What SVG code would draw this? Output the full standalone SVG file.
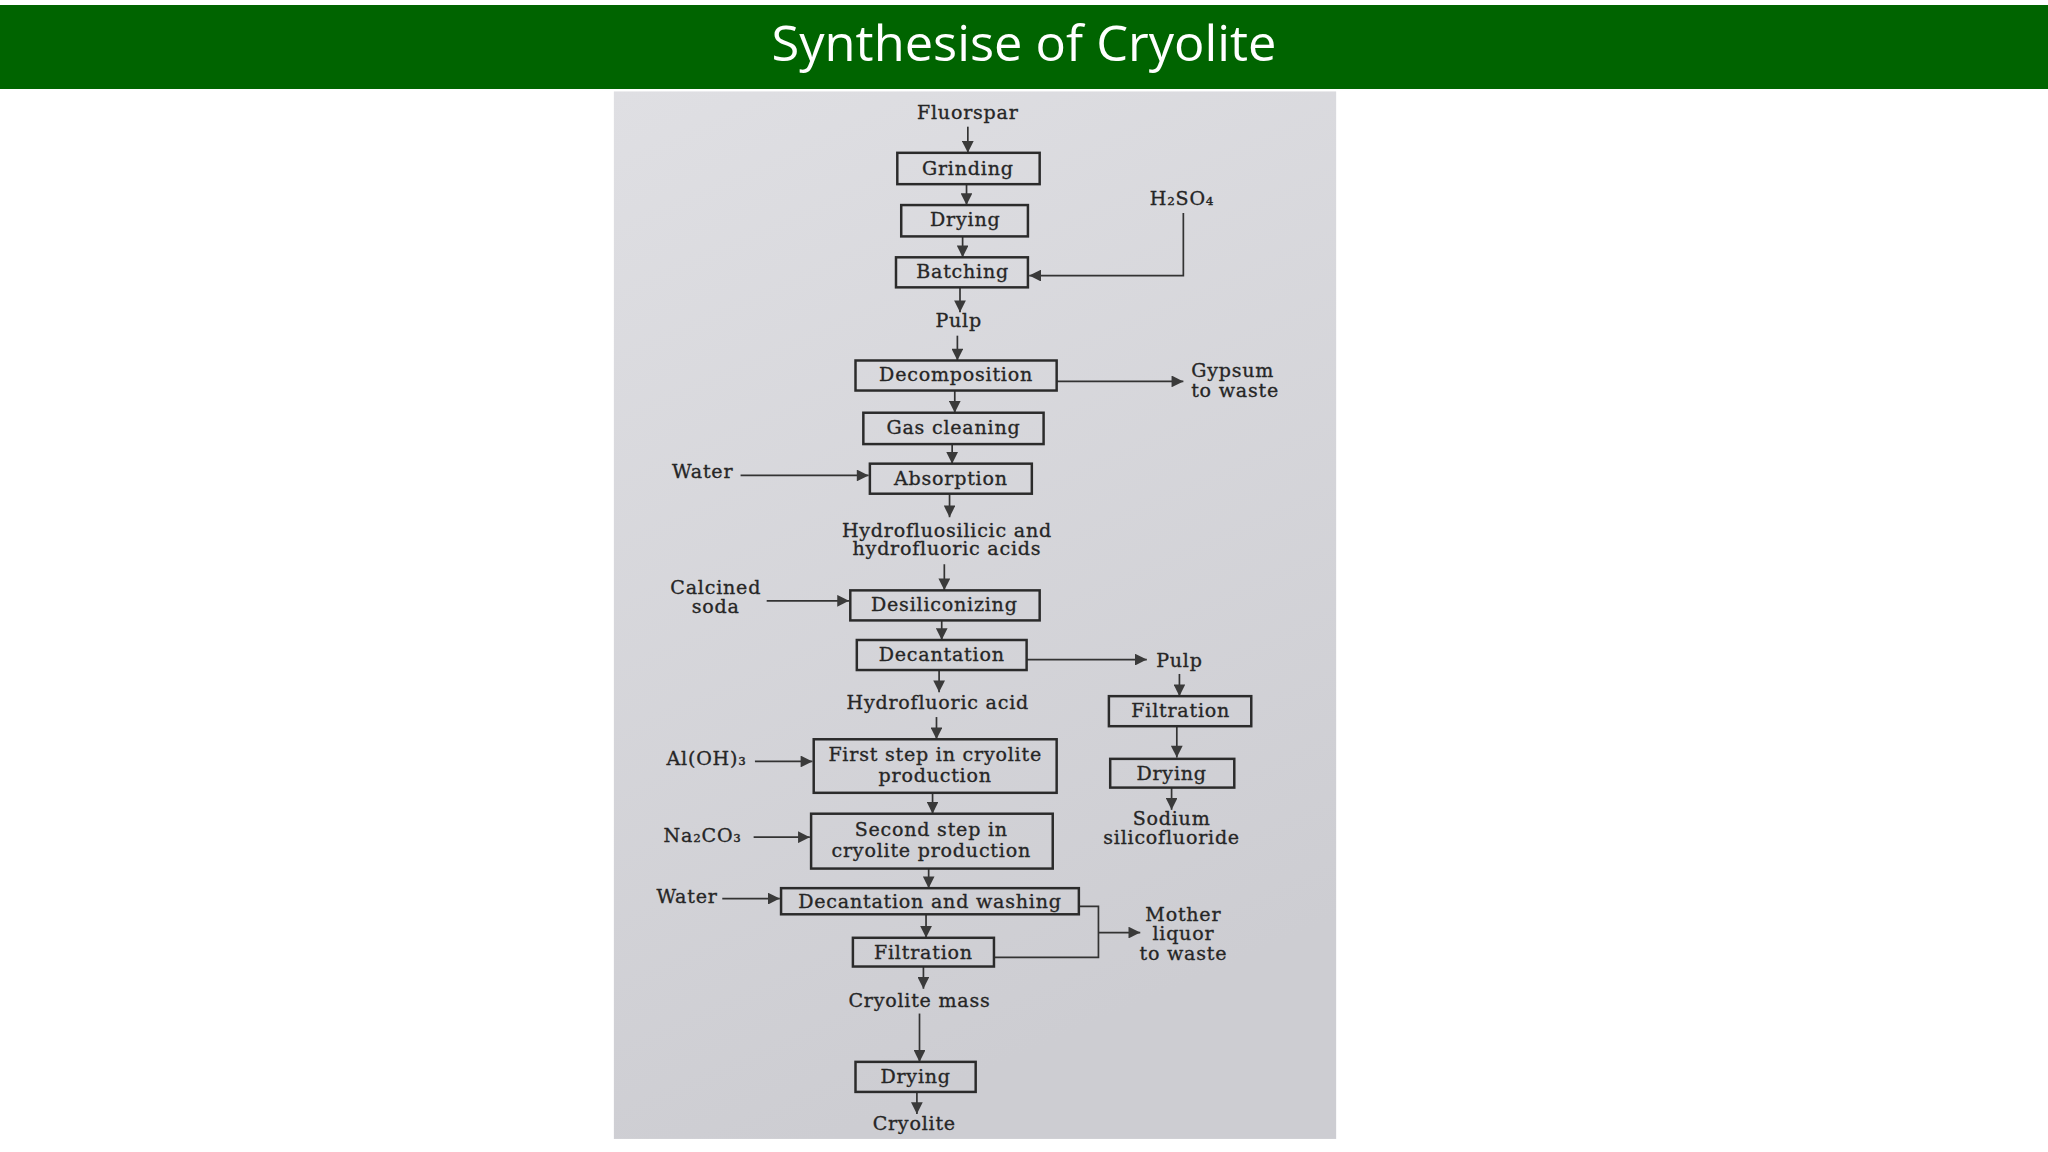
<svg xmlns="http://www.w3.org/2000/svg" width="2048" height="1152" viewBox="0 0 2048 1152">
<defs>
<style>
.box{fill:none;stroke:#2b2b2b;stroke-width:1.9}
.t{font-family:"DejaVu Serif","Liberation Serif",serif;font-size:14.6px;fill:#262626;stroke:#262626;stroke-width:0.25;text-anchor:middle;letter-spacing:0.6px}
.s{text-anchor:start}
.c{stroke:#333;stroke-width:1.3;fill:none;marker-end:url(#ah)}
.l{stroke:#333;stroke-width:1.3;fill:none}
</style>
<marker id="ah" viewBox="0 0 10 10" markerUnits="userSpaceOnUse" markerWidth="11" markerHeight="9" refX="10" refY="5" orient="auto">
<path d="M0,0 L10,5 L0,10 z" fill="#3a3a3a"/>
</marker>
<linearGradient id="paper" x1="0" y1="0" x2="0.3" y2="1">
<stop offset="0" stop-color="#dfdfe3"/>
<stop offset="1" stop-color="#cdcdd2"/>
</linearGradient>
</defs>
<rect width="2048" height="1152" fill="#ffffff"/>
<g id="header">
<rect x="0" y="5" width="2048" height="84" fill="#006400"/>
<text x="1024" y="61" font-family="'Open Sans','Noto Sans',sans-serif" font-size="50" fill="#ffffff" text-anchor="middle" textLength="505" lengthAdjust="spacingAndGlyphs">Synthesise of Cryolite</text>
</g>
<g id="photo" transform="scale(1.30612)">
<rect x="470" y="70" width="553" height="802" fill="url(#paper)"/>
<g id="connectors">
<path class="c" d="M741,97 V117"/>
<path class="c" d="M740,141 V157"/>
<path class="c" d="M737,181 V197"/>
<path class="c" d="M906,163 V211 H788"/>
<path class="c" d="M735,220 V239"/>
<path class="c" d="M733,257 V276"/>
<path class="c" d="M809,292 H906"/>
<path class="c" d="M731,299 V316"/>
<path class="c" d="M729,340 V355"/>
<path class="c" d="M567,364 H665"/>
<path class="c" d="M727,378 V396"/>
<path class="c" d="M723,432 V452"/>
<path class="c" d="M587,460 H650"/>
<path class="c" d="M721,475 V490"/>
<path class="c" d="M786,505 H878"/>
<path class="c" d="M719,513 V530"/>
<path class="c" d="M717,549 V566"/>
<path class="c" d="M578,583 H622"/>
<path class="c" d="M714,607 V623"/>
<path class="c" d="M577,641 H620"/>
<path class="c" d="M711,665 V680"/>
<path class="c" d="M553,688 H597"/>
<path class="c" d="M709,700 V718"/>
<path class="l" d="M826,694 H841 V733 H761"/>
<path class="c" d="M841,714 H873"/>
<path class="c" d="M707,740 V757"/>
<path class="c" d="M704,776 V813"/>
<path class="c" d="M702,836 V853"/>
<path class="c" d="M903,516 V533"/>
<path class="c" d="M901,556 V580"/>
<path class="c" d="M897,603 V620"/>
</g>
<g id="fluorspar"><text class="t" x="741" y="91">Fluorspar</text></g>
<g id="grinding"><rect class="box" x="687" y="117" width="109" height="24"/><text class="t" x="741" y="134">Grinding</text></g>
<g id="drying1"><rect class="box" x="690" y="157" width="97" height="24"/><text class="t" x="739" y="173">Drying</text></g>
<g id="batching"><rect class="box" x="686" y="197" width="101" height="23"/><text class="t" x="737" y="213">Batching</text></g>
<g id="h2so4"><text class="t" x="905" y="157">H₂SO₄</text></g>
<g id="pulp1"><text class="t" x="734" y="250">Pulp</text></g>
<g id="decomposition"><rect class="box" x="655" y="276" width="154" height="23"/><text class="t" x="732" y="292">Decomposition</text></g>
<g id="gypsum"><text class="t s" x="912" y="289">Gypsum</text><text class="t s" x="912" y="304">to waste</text></g>
<g id="gascleaning"><rect class="box" x="661" y="316" width="138" height="24"/><text class="t" x="730" y="332">Gas cleaning</text></g>
<g id="water1"><text class="t" x="538" y="366">Water</text></g>
<g id="absorption"><rect class="box" x="666" y="355" width="124" height="23"/><text class="t" x="728" y="371">Absorption</text></g>
<g id="acids"><text class="t" x="725" y="411">Hydrofluosilicic and</text><text class="t" x="725" y="425">hydrofluoric acids</text></g>
<g id="calcined"><text class="t" x="548" y="455">Calcined</text><text class="t" x="548" y="469">soda</text></g>
<g id="desiliconizing"><rect class="box" x="651" y="452" width="145" height="23"/><text class="t" x="723" y="468">Desiliconizing</text></g>
<g id="decantation"><rect class="box" x="656" y="490" width="130" height="23"/><text class="t" x="721" y="506">Decantation</text></g>
<g id="pulp2"><text class="t" x="903" y="511">Pulp</text></g>
<g id="hfacid"><text class="t" x="718" y="543">Hydrofluoric acid</text></g>
<g id="filtration2"><rect class="box" x="849" y="533" width="109" height="23"/><text class="t" x="904" y="549">Filtration</text></g>
<g id="drying2"><rect class="box" x="850" y="581" width="95" height="22"/><text class="t" x="897" y="597">Drying</text></g>
<g id="sodium"><text class="t" x="897" y="632">Sodium</text><text class="t" x="897" y="646">silicofluoride</text></g>
<g id="aloh3"><text class="t" x="541" y="586">Al(OH)₃</text></g>
<g id="firststep"><rect class="box" x="623" y="566" width="186" height="41"/><text class="t" x="716" y="583">First step in cryolite</text><text class="t" x="716" y="599">production</text></g>
<g id="na2co3"><text class="t" x="538" y="645">Na₂CO₃</text></g>
<g id="secondstep"><rect class="box" x="621" y="623" width="185" height="42"/><text class="t" x="713" y="640">Second step in</text><text class="t" x="713" y="656">cryolite production</text></g>
<g id="water2"><text class="t" x="526" y="691">Water</text></g>
<g id="decwash"><rect class="box" x="598" y="680" width="228" height="20"/><text class="t" x="712" y="695">Decantation and washing</text></g>
<g id="filtration1"><rect class="box" x="653" y="718" width="108" height="22"/><text class="t" x="707" y="734">Filtration</text></g>
<g id="mother"><text class="t" x="906" y="705">Mother</text><text class="t" x="906" y="720">liquor</text><text class="t" x="906" y="735">to waste</text></g>
<g id="cryolitemass"><text class="t" x="704" y="771">Cryolite mass</text></g>
<g id="drying3"><rect class="box" x="655" y="813" width="92" height="23"/><text class="t" x="701" y="829">Drying</text></g>
<g id="cryolite"><text class="t" x="700" y="865">Cryolite</text></g>
</g>
</svg>
